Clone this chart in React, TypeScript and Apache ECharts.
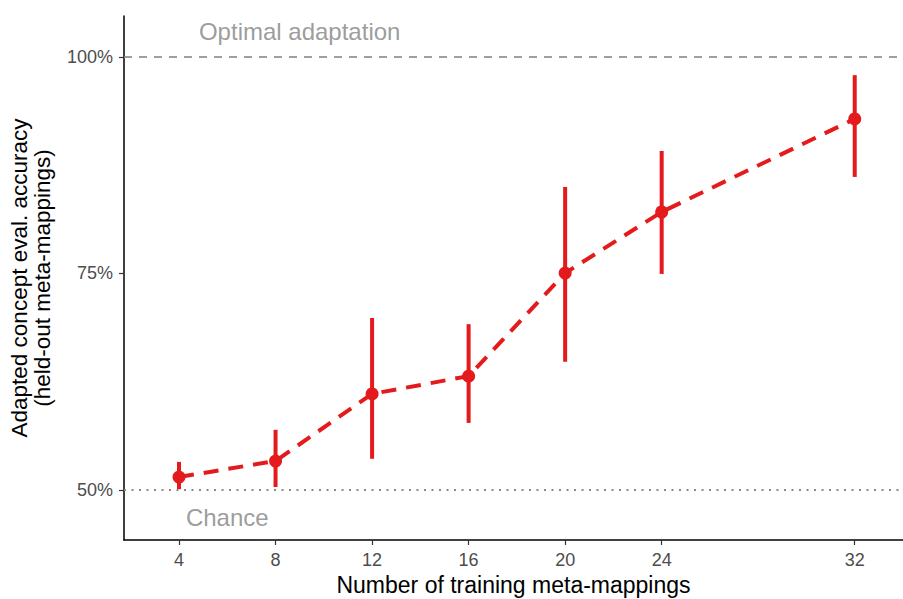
import React, { useEffect, useRef } from "react";
import * as echarts from "echarts";

// Number of training meta-mappings
const trainingCounts = [4, 8, 12, 16, 20, 24, 32];
// Mean adapted accuracy on held-out meta-mappings (%)
const meanAccuracy = [51.5, 53.35, 61.1, 63.15, 75.05, 82.1, 92.85];
// Error bar bounds (%)
const lowerBound = [50.1, 50.35, 53.6, 57.75, 64.8, 74.95, 86.15];
const upperBound = [53.25, 56.95, 69.85, 69.15, 85.0, 89.15, 97.9];
// Axis tick values
const xTicks = [4, 8, 12, 16, 20, 24, 32];
const yTicks = [50, 75, 100];
// Reference levels
const chanceLevel = 50;
const optimalLevel = 100;

const RED = "#E41A1C";
const FONT = "Liberation Sans, Arial, Helvetica, sans-serif";

export default function App() {
  const ref = useRef<HTMLDivElement>(null);

  useEffect(() => {
    if (!ref.current) return;
    const chart = echarts.init(ref.current, undefined, { renderer: "svg" });

    const errData = trainingCounts.map((x, i) => [x, lowerBound[i], upperBound[i]]);
    const lineData = trainingCounts.map((x, i) => [x, meanAccuracy[i]]);

    chart.setOption({
      animation: false,
      backgroundColor: "#ffffff",
      textStyle: { fontFamily: FONT },
      grid: {
        left: 124,
        right: 0,
        top: 16,
        bottom: 59,
        containLabel: false,
        outerBoundsMode: "none",
      },
      xAxis: {
        type: "value",
        min: 1.72,
        max: 34,
        name: "Number of training meta-mappings",
        nameLocation: "middle",
        nameGap: 32,
        nameTextStyle: { fontSize: 23, color: "#000", fontFamily: FONT },
        axisLine: { show: true, onZero: false, lineStyle: { color: "#000", width: 1.5 } },
        axisTick: { show: true, customValues: xTicks, length: 5, lineStyle: { color: "#333", width: 1.2 } },
        axisLabel: { customValues: xTicks, fontSize: 18, color: "#4d4d4d", margin: 11, fontFamily: FONT },
        splitLine: { show: false },
      },
      yAxis: {
        type: "value",
        min: 44.23,
        max: 104.73,
        name: "Adapted concept eval. accuracy\n(held-out meta-mappings)",
        nameLocation: "middle",
        nameGap: 70,
        nameTextStyle: { fontSize: 22.5, color: "#000", fontFamily: FONT, lineHeight: 23 },
        axisLine: { show: true, onZero: false, lineStyle: { color: "#000", width: 1.5 } },
        axisTick: { show: true, customValues: yTicks, length: 5, lineStyle: { color: "#333", width: 1.2 } },
        axisLabel: {
          customValues: yTicks,
          fontSize: 18,
          color: "#4d4d4d",
          margin: 11,
          fontFamily: FONT,
          formatter: (v: number) => `${v}%`,
        },
        splitLine: { show: false },
      },
      series: [
        {
          type: "line",
          data: lineData,
          symbol: "none",
          lineStyle: { color: RED, width: 4, type: [15, 10] },
          markLine: {
            silent: true,
            symbol: "none",
            label: { show: false },
            data: [
              { yAxis: optimalLevel, lineStyle: { color: "#808080", width: 1.5, type: [8, 7] } },
              { yAxis: chanceLevel, lineStyle: { color: "#8a8a8a", width: 2, type: [2, 5.5] } },
            ],
          },
          z: 2,
        },
        {
          type: "custom",
          data: errData,
          renderItem: (params: any, api: any) => {
            const x = api.value(0);
            const lo = api.coord([x, api.value(1)]);
            const hi = api.coord([x, api.value(2)]);
            return {
              type: "line",
              shape: { x1: lo[0], y1: lo[1], x2: hi[0], y2: hi[1] },
              style: { stroke: RED, lineWidth: 4 },
            };
          },
          encode: { x: 0, y: [1, 2] },
          z: 3,
        },
        {
          type: "scatter",
          data: lineData,
          symbol: "circle",
          symbolSize: 13,
          itemStyle: { color: RED, opacity: 1 },
          z: 4,
        },
        {
          type: "scatter",
          data: [
            { value: [9, 102.9], name: "Optimal adaptation" },
            { value: [6, 46.8], name: "Chance" },
          ],
          symbolSize: 0,
          label: {
            show: true,
            position: "inside",
            formatter: (p: any) => p.name,
            fontSize: 24,
            color: "#828282",
            fontFamily: FONT,
          },
          z: 5,
        },
      ],
    });

    return () => chart.dispose();
  }, []);

  return (
    <div
      ref={ref}
      style={{ position: "fixed", left: 0, top: 0, width: 903, height: 599, background: "#fff" }}
    />
  );
}
